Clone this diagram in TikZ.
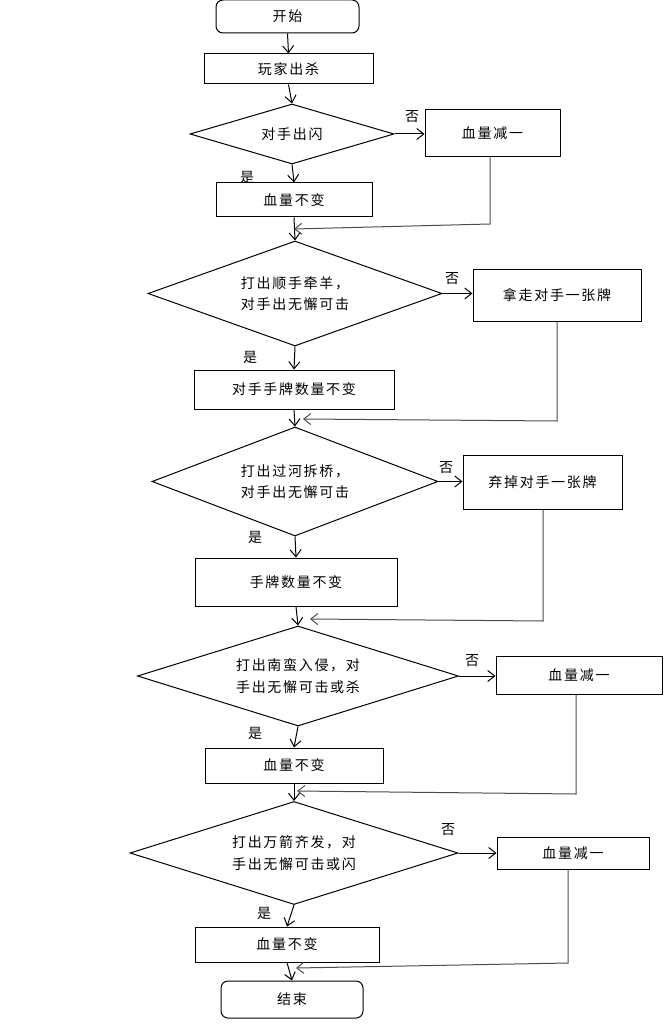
\documentclass[tikz,border=0pt]{standalone}
\usepackage{fontspec}
\setmainfont{Noto Sans CJK SC}[LetterSpace=12]
\usetikzlibrary{shapes.geometric,arrows.meta}
\begin{document}
\begin{tikzpicture}[x=1pt,y=-1pt,
  font=\fontsize{14}{21.5}\selectfont,
  box/.style={draw, line width=1pt, inner sep=0pt, align=center, rectangle},
  term/.style={box, rounded corners=7pt},
  dec/.style={draw, line width=1pt, diamond, inner sep=0pt, align=center},
  arr/.style={-{Straight Barb[length=7pt,width=11pt]}, line width=1pt},
  marr/.style={-{Straight Barb[length=7pt,width=11pt]}, line width=1pt, draw=black!70},
  lab/.style={inner sep=0pt}]
\useasboundingbox (0,0) rectangle (667,1024);

% main column
\node[term, minimum width=143pt, minimum height=33pt] (start) at (287.5,16.5) {开始};
\node[box, minimum width=169pt, minimum height=30pt] (p1) at (288.5,69) {玩家出杀};
\node[dec, aspect=3.4, minimum width=204pt, minimum height=60pt] (d1) at (292,134) {对手出闪};
\node[box, minimum width=156pt, minimum height=34pt] (b1) at (294,200) {血量不变};
\node[dec, aspect=2.8, minimum width=294pt, minimum height=105pt] (d2) at (295,293.5) {打出顺手牵羊，\\对手出无懈可击};
\node[box, minimum width=200pt, minimum height=39pt] (b2) at (294,389.5) {对手手牌数量不变};
\node[dec, aspect=2.62, minimum width=286pt, minimum height=109pt] (d3) at (295,481.5) {打出过河拆桥，\\对手出无懈可击};
\node[box, minimum width=202pt, minimum height=48pt] (b3) at (296,582) {手牌数量不变};
\node[dec, aspect=3.2, minimum width=321pt, minimum height=100pt] (d4) at (298,676) {打出南蛮入侵，对\\手出无懈可击或杀};
\node[box, minimum width=178pt, minimum height=35pt] (b4) at (294,765.5) {血量不变};
\node[dec, aspect=3.18, minimum width=328pt, minimum height=103pt] (d5) at (294,853) {打出万箭齐发，对\\手出无懈可击或闪};
\node[box, minimum width=184pt, minimum height=35pt] (b5) at (287,944.5) {血量不变};
\node[term, minimum width=142pt, minimum height=37pt] (end) at (292,999.5) {结束};

% right column
\node[box, minimum width=135pt, minimum height=47pt] (r1) at (492.5,133.5) {血量减一};
\node[box, minimum width=168pt, minimum height=52pt] (r2) at (557,295) {拿走对手一张牌};
\node[box, minimum width=159pt, minimum height=54pt] (r3) at (542.5,482) {弃掉对手一张牌};
\node[box, minimum width=166pt, minimum height=38pt] (r4) at (579,675) {血量减一};
\node[box, minimum width=152pt, minimum height=32pt] (r5) at (573,853) {血量减一};

% labels
\node[lab] (n1) at (412,117) {否};
\node[lab] (y1) at (247,177) {是};
\node[lab] (n2) at (452,279) {否};
\node[lab] (y2) at (250,357) {是};
\node[lab] (n3) at (446,468) {否};
\node[lab] (y3) at (255,537) {是};
\node[lab] (n4) at (472,661) {否};
\node[lab] (y4) at (255,733) {是};
\node[lab] (n5) at (448,830) {否};
\node[lab] (y5) at (264,913) {是};

% merge points
\coordinate (m1r) at (490,224); \coordinate (m1) at (294,229);
\coordinate (m2r) at (557,421); \coordinate (m2) at (303,419);
\coordinate (m3r) at (543,621); \coordinate (m3) at (310,619);
\coordinate (m4r) at (576,794); \coordinate (m4) at (297,791);
\coordinate (m5r) at (568,963); \coordinate (m5) at (296,968);

% vertical flow
\draw[arr] (start.south) -- (p1.north);
\draw[arr] (p1.south) -- (d1.north);
\draw[arr] (d1.south) -- (b1.north);
\draw[arr] (b1.south) -- (d2.north);
\draw[arr] (d2.south) -- (b2.north);
\draw[arr] (b2.south) -- (d3.north);
\draw[arr] (d3.south) -- (b3.north);
\draw[arr] (b3.south) -- (d4.north);
\draw[arr] (d4.south) -- (b4.north);
\draw[arr] (b4.south) -- (d5.north);
\draw[arr] (d5.south) -- (b5.north);
\draw[arr] (b5.south) -- (end.north);

% no branches
\draw[arr] (d1.east) -- (d1.east -| r1.west);
\draw[arr] (d2.east) -- (d2.east -| r2.west);
\draw[arr] (d3.east) -- (d3.east -| r3.west);
\draw[arr] (d4.east) -- (d4.east -| r4.west);
\draw[arr] (d5.east) -- (d5.east -| r5.west);

% merges
\draw[marr] (r1.south -| m1r) -- (m1r) -- (m1);
\draw[marr] (r2.south -| m2r) -- (m2r) -- (m2);
\draw[marr] (r3.south -| m3r) -- (m3r) -- (m3);
\draw[marr] (r4.south -| m4r) -- (m4r) -- (m4);
\draw[marr] (r5.south -| m5r) -- (m5r) -- (m5);
\end{tikzpicture}
\end{document}
